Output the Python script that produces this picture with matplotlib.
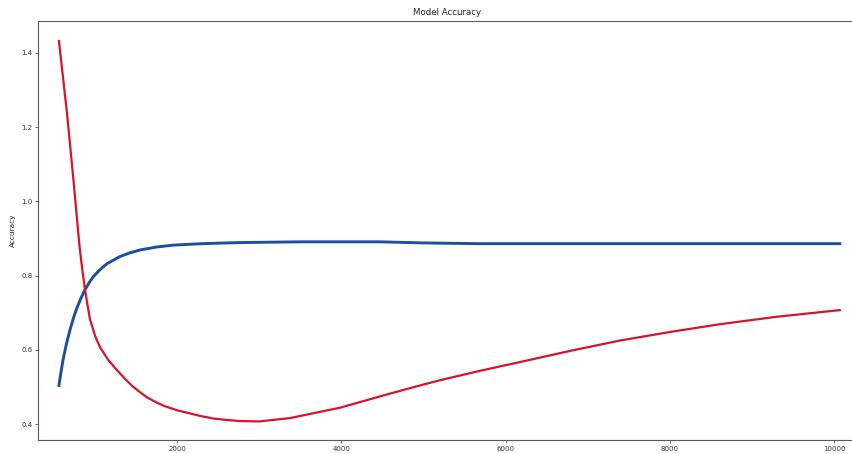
import matplotlib
matplotlib.use("Agg")
import matplotlib.pyplot as plt

# Blue series (accuracy)
blue_x = [560, 585, 609, 650, 694, 740, 779, 830, 877, 925, 975, 1060, 1145, 1300, 1420, 1547,
          1750, 1949, 2300, 2765, 3500, 4470, 5000, 5690, 7000, 8500, 10070]
blue_y = [0.504, 0.540, 0.572, 0.615, 0.653, 0.688, 0.713, 0.740, 0.762, 0.780, 0.796, 0.816,
          0.832, 0.851, 0.861, 0.869, 0.877, 0.882, 0.886, 0.889, 0.891, 0.891, 0.888, 0.886,
          0.886, 0.886, 0.886]

# Red series
red_x = [560, 658, 740, 779, 810, 845, 877, 910, 938, 1000, 1060, 1160, 1267, 1360, 1450,
         1540, 1632, 1740, 1850, 2000, 2150, 2278, 2436, 2600, 2765, 3000, 3374, 3983, 4592,
         4957, 5201, 5700, 6175, 6784, 7393, 8000, 8611, 9300, 10070]
red_y = [1.432, 1.238, 1.050, 0.955, 0.880, 0.815, 0.763, 0.718, 0.682, 0.638, 0.607, 0.573,
         0.545, 0.523, 0.503, 0.487, 0.472, 0.459, 0.448, 0.437, 0.429, 0.422, 0.415, 0.411,
         0.408, 0.407, 0.416, 0.444, 0.482, 0.504, 0.518, 0.544, 0.567, 0.597, 0.625, 0.648,
         0.669, 0.689, 0.707]

x_ticks = [2000, 4000, 6000, 8000, 10000]
y_ticks = [0.4, 0.6, 0.8, 1.0, 1.2, 1.4]

W, H = 853, 454
fig = plt.figure(figsize=(W / 100, H / 100), dpi=100)
left, right, top, bottom = 38, 856, 21, 440
ax = fig.add_axes([left / W, (H - bottom) / H, (right - left) / W, (bottom - top) / H])

ax.plot(blue_x, blue_y, color="#1c4f9e", linewidth=2.1, solid_joinstyle="round")
ax.plot(red_x, red_y, color="#d3152d", linewidth=1.6, solid_joinstyle="round")

ax.set_xlim(305, 10268)
ax.set_ylim(0.357, 1.486)
ax.set_xticks(x_ticks)
ax.set_xticklabels([str(t) for t in x_ticks])
ax.set_yticks(y_ticks)
ax.set_yticklabels([f"{t:.1f}" for t in y_ticks])
ax.tick_params(labelsize=5, length=2, width=0.5, colors="#333333", pad=2)
ax.set_title("Model Accuracy", fontsize=6.2, color="#222222", pad=4)
ax.set_ylabel("Accuracy", fontsize=5.3, color="#222222", labelpad=4)
for s in ax.spines.values():
    s.set_color("#55586e")
    s.set_linewidth(0.8)

fig.savefig("out.png", dpi=100)
